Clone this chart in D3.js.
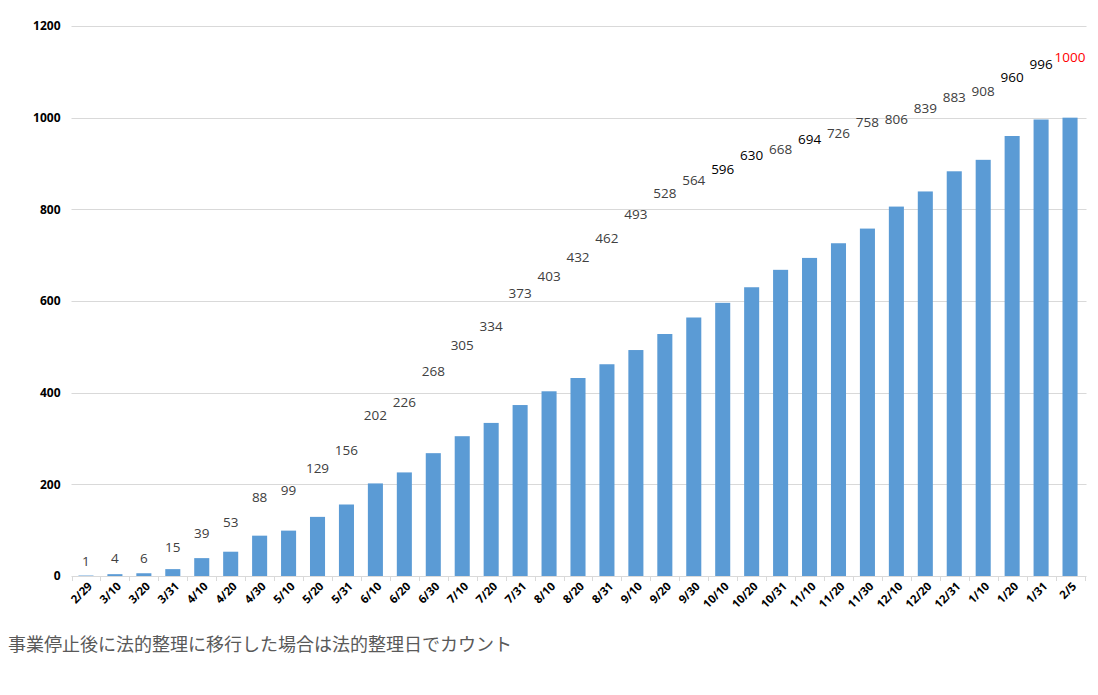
<!DOCTYPE html>
<html>
<head>
<meta charset="utf-8">
<script src="https://cdn.jsdelivr.net/npm/d3@7/dist/d3.min.js"></script>
<style>
  html, body { margin: 0; padding: 0; background: #fff; }
  svg { display: block; }
</style>
</head>
<body>
<svg id="chart" width="1098" height="695"></svg>
<script>
// ---- data ----
const categories = ["2/29","3/10","3/20","3/31","4/10","4/20","4/30","5/10","5/20","5/31",
  "6/10","6/20","6/30","7/10","7/20","7/31","8/10","8/20","8/31","9/10","9/20","9/30",
  "10/10","10/20","10/31","11/10","11/20","11/30","12/10","12/20","12/31","1/10","1/20","1/31","2/5"];
const values = [1,4,6,15,39,53,88,99,129,156,202,226,268,305,334,373,403,432,462,493,528,564,
  596,630,668,694,726,758,806,839,883,908,960,996,1000];
// value-label anchor heights (in data units) as placed in the original
const labelAt = [32,39,39,63,94,118,171,187,234,275,351,379,447,503,544,617,653,695,737,789,835,864,
  888,917,931,952,967,989,996,1020,1045,1058,1089,1116,1131];
// label colour group: 0 = grey, 1 = black, 2 = red
const labelTone = [0,0,0,0,0,0,0,0,0,0,0,0,0,0,0,0,0,0,0,0,0,0,
  1,1,0,1,0,0,0,0,0,0,1,1,2];
const yTicks = [0,200,400,600,800,1000,1200];
const footnote = "事業停止後に法的整理に移行した場合は法的整理日でカウント";

// ---- layout ----
const svg = d3.select("#chart");
const mLeft = 71.5, mRight = 1084.5, mTop = 26, mBottom = 576;

const x = d3.scaleBand().domain(categories).range([mLeft, mRight]).paddingInner(0.48).paddingOuter(0.24);
const y = d3.scaleLinear().domain([0, 1200]).range([mBottom, mTop]);

// gridlines
svg.append("g").selectAll("line").data(yTicks.filter(d => d > 0)).join("line")
  .attr("x1", mLeft).attr("x2", mRight + 2)
  .attr("y1", d => Math.round(y(d)) + 0.5).attr("y2", d => Math.round(y(d)) + 0.5)
  .attr("stroke", "#d9d9d9").attr("stroke-width", 1);

// y axis labels
const yAxis = d3.axisLeft(y).tickValues(yTicks).tickFormat(d3.format("d")).tickSize(0).tickPadding(11);
const gy = svg.append("g").attr("transform", `translate(${mLeft},0)`).call(yAxis);
gy.select(".domain").remove();
gy.selectAll("text").attr("font-family", "'Open Sans', 'DejaVu Sans', sans-serif")
  .attr("font-size", 12).attr("font-weight", "bold").attr("fill", "#000");

// bars
svg.append("g").selectAll("rect").data(values).join("rect")
  .attr("x", (d, i) => x(categories[i]))
  .attr("width", x.bandwidth())
  .attr("y", d => y(d))
  .attr("height", d => y(0) - y(d))
  .attr("fill", "#5b9bd5");

// x axis
const step = x.step();
const gx = svg.append("g");
gx.append("line").attr("x1", mLeft).attr("x2", mRight + 2)
  .attr("y1", mBottom + 0.5).attr("y2", mBottom + 0.5).attr("stroke", "#d9d9d9");
const bounds = d3.range(categories.length + 1).map(i => mLeft + i * step);
gx.selectAll("line.tk").data(bounds).join("line").attr("class", "tk")
  .attr("x1", d => Math.round(d) + 0.5).attr("x2", d => Math.round(d) + 0.5)
  .attr("y1", mBottom).attr("y2", mBottom + 5).attr("stroke", "#d9d9d9");
gx.selectAll("text").data(categories).join("text")
  .attr("transform", d => `translate(${x(d) + x.bandwidth() / 2 + 7},${mBottom + 11}) rotate(-45)`)
  .attr("text-anchor", "end")
  .attr("font-family", "'Open Sans', 'DejaVu Sans', sans-serif")
  .attr("font-size", 11.5).attr("font-weight", "bold").attr("fill", "#000")
  .text(d => d);

// value labels
const toneColor = ["#404040", "#000000", "#ff0000"];
svg.append("g").selectAll("text").data(values).join("text")
  .attr("x", (d, i) => x(categories[i]) + x.bandwidth() / 2)
  .attr("y", (d, i) => y(labelAt[i]))
  .attr("dy", "0.35em")
  .attr("text-anchor", "middle")
  .attr("font-family", "'Open Sans', 'DejaVu Sans', sans-serif")
  .attr("font-size", 13.5)
  .attr("fill", (d, i) => toneColor[labelTone[i]])
  .text(d => d);

// footnote
svg.append("text").attr("x", 8).attr("y", 651)
  .attr("font-family", "'Noto Sans CJK JP', sans-serif")
  .attr("font-size", 18).attr("fill", "#595959")
  .text(footnote);
</script>
</body>
</html>
